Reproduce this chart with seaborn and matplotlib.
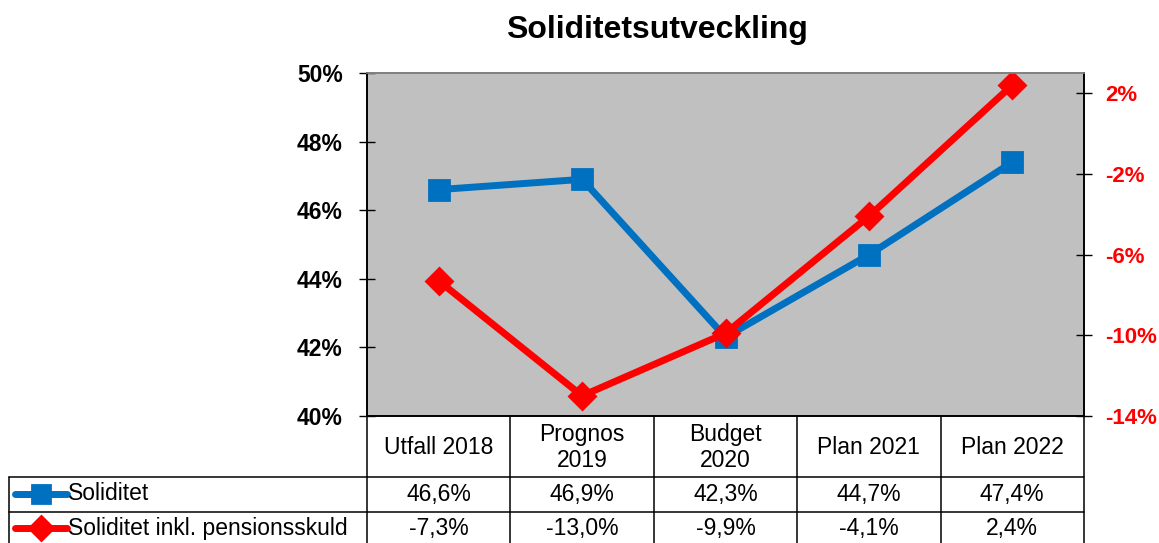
import numpy as np
import matplotlib
matplotlib.use("Agg")
import matplotlib.pyplot as plt
import matplotlib.transforms as mtransforms
from matplotlib.ticker import FuncFormatter, FixedLocator
import seaborn as sns

# ---- data ----
categories = ["Utfall 2018", "Prognos\n2019", "Budget\n2020", "Plan 2021", "Plan 2022"]
soliditet = [46.6, 46.9, 42.3, 44.7, 47.4]
soliditet_pension = [-7.3, -13.0, -9.9, -4.1, 2.4]
series_names = ["Soliditet", "Soliditet inkl. pensionsskuld"]
left_ticks = [40, 42, 44, 46, 48, 50]
right_ticks = [-14, -10, -6, -2, 2]

BLUE = "#0070C0"
RED = "#FF0000"
GRAY = "#C0C0C0"

sns.set_theme(style="white")
plt.rcParams["font.family"] = ["Liberation Sans", "DejaVu Sans"]
plt.rcParams["text.color"] = "black"
plt.rcParams["ytick.labelcolor"] = "black"

W, H = 1159, 543
fig = plt.figure(figsize=(W / 100, H / 100), dpi=100)
L, R, T, B = 367, 1084, 73, 416
ax = fig.add_axes([L / W, 1 - B / H, (R - L) / W, (B - T) / H])
ax.set_facecolor(GRAY)
ax2 = ax.twinx()

xpos = np.arange(len(categories))

sns.lineplot(x=xpos, y=soliditet, ax=ax, color=BLUE, linewidth=5,
             marker="s", markersize=14, markeredgecolor=BLUE, markeredgewidth=2,
             legend=False)
sns.lineplot(x=xpos, y=soliditet_pension, ax=ax2, color=RED, linewidth=5,
             marker="D", markersize=13, markeredgecolor=RED, markeredgewidth=2,
             legend=False)
for a in (ax, ax2):
    for ln in a.get_lines():
        ln.set_solid_joinstyle("round")
        ln.set_solid_capstyle("round")

ax.set_xlim(-0.5, len(categories) - 0.5)
ax.set_ylim(40, 50)
ax2.set_ylim(-14, 3)
ax.yaxis.set_major_locator(FixedLocator(left_ticks))
ax2.yaxis.set_major_locator(FixedLocator(right_ticks))
pct = FuncFormatter(lambda v, p: f"{v:.0f}%")
ax.yaxis.set_major_formatter(pct)
ax2.yaxis.set_major_formatter(pct)
ax.set_xticks([])
ax2.set_xticks([])
ax.set_xlabel("")
ax.set_ylabel("")
ax2.set_ylabel("")

ax.tick_params(axis="y", direction="inout", length=11, width=1, color="black",
               labelsize=16.5, pad=12, left=True, labelcolor="black")
ax2.tick_params(axis="y", direction="inout", length=11, width=1, color="black",
                labelsize=16, pad=10, right=True, labelcolor=RED)
for lab in ax.get_yticklabels():
    lab.set_fontweight("bold")
for lab in ax2.get_yticklabels():
    lab.set_fontweight("bold")

for a in (ax, ax2):
    for s in ["left", "right", "bottom"]:
        a.spines[s].set_color("black")
        a.spines[s].set_linewidth(1.2)
    a.spines["top"].set_color("#808080")
    a.spines["top"].set_linewidth(1.2)
ax2.patch.set_visible(False)

fig.text(657 / W, 1 - 30 / H, "Soliditetsutveckling", ha="center", va="center",
         fontsize=23, fontweight="bold", color="black")

# ---- data table below the axes ----
tr = mtransforms.blended_transform_factory(ax.transData, ax.transAxes)
def ay(py):
    return (B - py) / (B - T)

n = len(categories)
colw = (R - L) / n
y_hdr_bot = ay(477)
y_row_mid = ay(512)
y_bottom = ay(560)
x_left_tbl = -0.5 - (L - 9) / colw
lc = "black"
lw = 1.1
for i in range(n + 1):
    ax.plot([i - 0.5, i - 0.5], [0, y_bottom], transform=tr, color=lc, lw=lw,
            clip_on=False)
ax.plot([x_left_tbl, x_left_tbl], [y_hdr_bot, y_bottom], transform=tr, color=lc,
        lw=lw, clip_on=False)
for yy in (y_hdr_bot, y_row_mid):
    ax.plot([x_left_tbl, n - 0.5], [yy, yy], transform=tr, color=lc, lw=lw,
            clip_on=False)

for i, c in enumerate(categories):
    ax.text(i, ay(447.5), c, transform=tr, ha="center", va="center", fontsize=16.5,
            linespacing=1.15, clip_on=False, color="black")

def fmt(v):
    return f"{v:.1f}%".replace(".", ",")

rows = [(soliditet, BLUE, "s", 13, ay(494)), (soliditet_pension, RED, "D", 12, ay(528))]
for (vals, col, mk, ms, yy), name in zip(rows, series_names):
    for i, v in enumerate(vals):
        ax.text(i, yy, fmt(v), transform=tr, ha="center", va="center",
                fontsize=16.5, clip_on=False, color="black")
    kx0 = x_left_tbl + 6 / colw
    kx1 = x_left_tbl + 58 / colw
    ax.plot([kx0, kx1], [yy, yy], transform=tr, color=col, lw=5, clip_on=False,
            solid_capstyle="round")
    ax.plot([(kx0 + kx1) / 2], [yy], transform=tr, color=col, marker=mk,
            markersize=ms, markeredgecolor=col, markeredgewidth=2, clip_on=False)
    ax.text(x_left_tbl + 59 / colw, yy, name, transform=tr, ha="left",
            va="center", fontsize=16.5, clip_on=False, color="black")

fig.savefig("out.png", dpi=100)
